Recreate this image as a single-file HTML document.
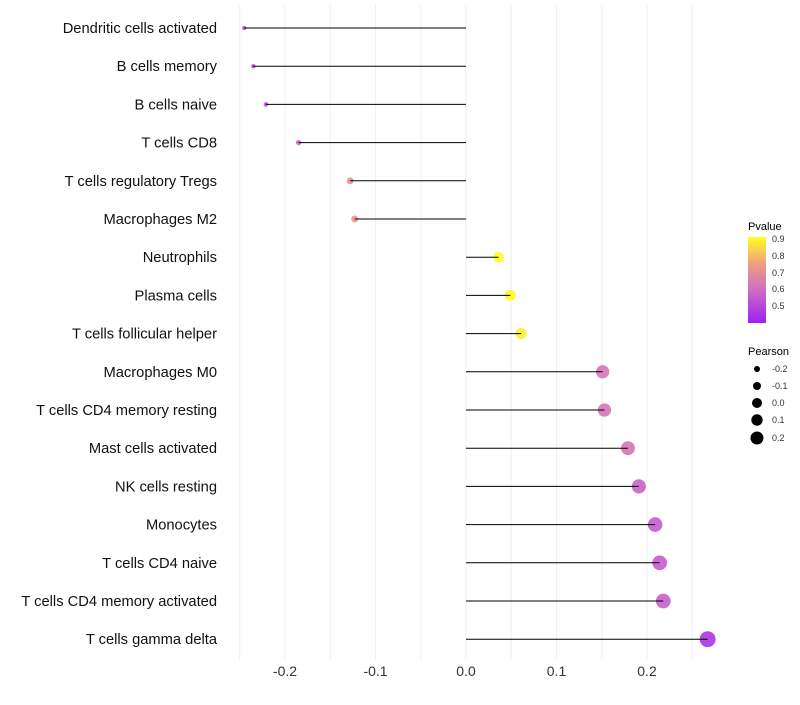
<!DOCTYPE html>
<html><head><meta charset="utf-8"><style>
body{margin:0;background:#fff;font-family:"Liberation Sans",sans-serif}
</style></head><body>
<svg id="chart" width="800" height="700" xmlns="http://www.w3.org/2000/svg" font-family="Liberation Sans, sans-serif">
<defs><linearGradient id="pg" x1="0" y1="1" x2="0" y2="0">
<stop offset="0" stop-color="#a020f0"/><stop offset="0.4" stop-color="#d070c0"/><stop offset="0.7" stop-color="#f0a080"/><stop offset="1" stop-color="#ffff20"/></linearGradient></defs>
<g id="grid"></g><g id="marks"></g><g id="labels"></g>
<g>
<text x="748" y="230" font-size="11">Pvalue</text>
<rect x="748" y="237" width="18" height="86" fill="url(#pg)"/>
<g font-size="9" fill="#333"><text x="772" y="242">0.9</text><text x="772" y="259">0.8</text><text x="772" y="276">0.7</text><text x="772" y="292">0.6</text><text x="772" y="309">0.5</text></g>
</g>
<g>
<text x="748" y="355" font-size="11">Pearson</text>
<circle cx="757" cy="369" r="3"/><circle cx="757" cy="386" r="4"/><circle cx="757" cy="403" r="5"/><circle cx="757" cy="420" r="5.7"/><circle cx="757" cy="438" r="6.5"/>
<g font-size="9" fill="#333"><text x="772" y="372">-0.2</text><text x="772" y="389">-0.1</text><text x="772" y="406">0.0</text><text x="772" y="423">0.1</text><text x="772" y="441">0.2</text></g>
</g>
</svg>
<script>
const categories=["Dendritic cells activated","B cells memory","B cells naive","T cells CD8","T cells regulatory  Tregs","Macrophages M2","Neutrophils","Plasma cells","T cells follicular helper","Macrophages M0","T cells CD4 memory resting","Mast cells activated","NK cells resting","Monocytes","T cells CD4 naive","T cells CD4 memory activated","T cells gamma delta"];
const pearson=[-0.245,-0.235,-0.221,-0.185,-0.128,-0.123,0.036,0.049,0.061,0.151,0.153,0.179,0.191,0.209,0.214,0.218,0.267];
const pvalue=[0.5,0.5,0.52,0.6,0.7,0.72,0.92,0.9,0.88,0.62,0.62,0.62,0.57,0.55,0.55,0.56,0.45];
const tickValues=[-0.2,-0.1,0.0,0.1,0.2];
const tickLabels=["-0.2","-0.1","0.0","0.1","0.2"];
const NS="http://www.w3.org/2000/svg";
const x=v=>466+v*905;
const y=i=>28+i*38.2;
function col(p){const st=[[0.4,[160,32,240]],[0.6,[208,112,192]],[0.75,[240,160,128]],[0.91,[255,255,32]]];
 if(p<=st[0][0])return `rgb(${st[0][1]})`;for(let k=1;k<st.length;k++){if(p<=st[k][0]){const t=(p-st[k-1][0])/(st[k][0]-st[k-1][0]);const c=st[k-1][1].map((a,j)=>Math.round(a+(st[k][1][j]-a)*t));return `rgb(${c})`;}}return `rgb(${st[3][1]})`;}
function mk(t,a,p){const e=document.createElementNS(NS,t);for(const k in a)e.setAttribute(k,a[k]);p.appendChild(e);return e;}
const g=document.getElementById('grid'),m=document.getElementById('marks'),l=document.getElementById('labels');
for(let v=-0.25;v<=0.251;v+=0.05){const ln=mk('line',{x1:x(v),x2:x(v),y1:5,y2:660,stroke:'#f0f0f0','stroke-width':1},g);

}
tickValues.forEach((v,i)=>{const t=mk('text',{x:x(v),y:676,'font-size':14,'text-anchor':'middle',fill:'#333'},l);t.textContent=tickLabels[i];

});
categories.forEach((c,i)=>{
 const t=mk('text',{x:217,y:y(i)+5,'font-size':14.7,'text-anchor':'end',fill:'#111'},l);t.textContent=c;
 
 
 const r=2+(pearson[i]+0.25)/0.52*6;
 const ci=mk('circle',{cx:x(pearson[i]),cy:y(i),r:r,fill:col(pvalue[i]),'fill-opacity':0.9},m);
 
 
 const ln=mk('line',{x1:x(0),x2:x(pearson[i]),y1:y(i),y2:y(i),stroke:'#000','stroke-width':1},m);
 
 
});
</script>
</body></html>
